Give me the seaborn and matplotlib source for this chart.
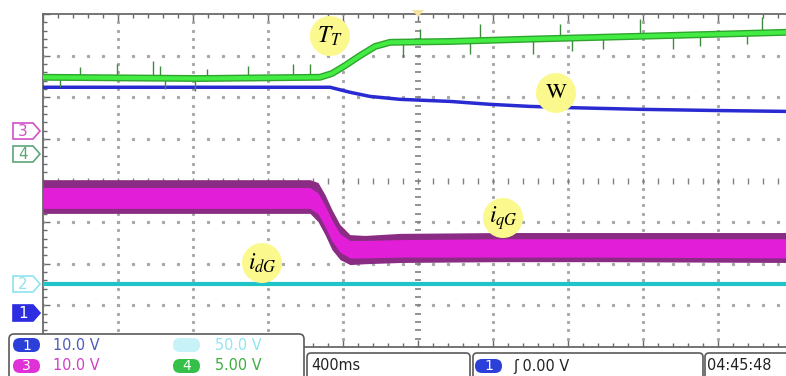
import numpy as np
import seaborn as sns
import matplotlib.pyplot as plt
from matplotlib.patches import Circle, FancyBboxPatch, Polygon

sns.set_style('white')
plt.rcParams['mathtext.fontset'] = 'stix'

# time axis in ms (400 ms/div), levels in screen divisions (0 = centre, +-4 = edges)
green_t = [0, 837, 1477, 1541, 1611, 1691, 1771, 1851, 2171, 2544, 2971, 3397, 3963, 4000]
green_lvl = [2.48, 2.45, 2.48, 2.57, 2.76, 3.00, 3.22, 3.32, 3.34, 3.39, 3.44, 3.49, 3.56, 3.57]
green_spike_t = [91, 197, 395, 587, 624, 651, 811, 875, 1093, 1333, 1424,
                 1920, 2011, 2277, 2331, 2613, 2757, 2821, 2987, 3184, 3360, 3504, 3755, 3835]
green_spike_tip = [2.24, 2.72, 2.79, 2.86, 2.76, 2.19, 2.14, 2.67, 2.74, 2.79, 2.81,
                   2.96, 3.63, 3.03, 3.75, 3.03, 3.75, 3.10, 3.15, 3.87, 3.15, 3.22, 3.27, 3.92]

blue_t = [0, 1531, 1557, 1637, 1744, 1904, 2171, 2384, 2597, 2811, 3184, 3611, 3963, 4000]
blue_lvl = [2.24, 2.24, 2.21, 2.12, 2.02, 1.95, 1.90, 1.83, 1.78, 1.75, 1.71, 1.68, 1.66, 1.66]

mag_t = [0, 1424, 1467, 1504, 1541, 1584, 1637, 1717, 1904, 2437, 2971, 4000]
mag_outer_top = [0.02, 0.02, -0.05, -0.34, -0.70, -1.06, -1.30, -1.32, -1.27, -1.25, -1.25, -1.25]
mag_outer_bot = [-0.79, -0.79, -0.99, -1.30, -1.66, -1.90, -2.02, -2.00, -1.97, -1.95, -1.95, -1.97]
mag_inner_top = [-0.17, -0.17, -0.30, -0.60, -0.95, -1.28, -1.44, -1.44, -1.42, -1.40, -1.40, -1.40]
mag_inner_bot = [-0.67, -0.67, -0.80, -1.10, -1.45, -1.72, -1.86, -1.86, -1.84, -1.84, -1.84, -1.86]

cyan_t = [0, 4000]
cyan_lvl = [-2.48, -2.48]

fig = plt.figure(figsize=(7.86, 3.76), dpi=100)
ax = fig.add_axes([43 / 786, 29 / 376, 750 / 786, 333 / 376])
ax.set_xlim(0, 4000)
ax.set_ylim(-4, 4)

# graticule
grid_c = '#a8a8a8'
for gx in np.arange(400, 4000, 400):
    if gx == 2000:
        continue
    ys = np.arange(-4, 4.01, 0.2)
    ax.plot([gx] * len(ys), ys, ls='none', marker='s', ms=1.2, color=grid_c, zorder=1)
for gy in range(-3, 4):
    if gy == 0:
        continue
    xs = np.arange(0, 4001, 80)
    ax.plot(xs, [gy] * len(xs), ls='none', marker='s', ms=1.3, color=grid_c, zorder=1)
ys = np.arange(-4, 4.01, 0.2)
ax.plot([2000] * len(ys), ys, ls='none', marker='_', ms=5, mew=1.2, color='#808080', zorder=1)
xs = np.arange(0, 4001, 80)
ax.plot(xs, [0] * len(xs), ls='none', marker='|', ms=5, mew=1.0, color='#808080', zorder=1)

for side in ['top', 'left', 'bottom']:
    ax.spines[side].set_color('#6a6a6a')
    ax.spines[side].set_linewidth(1.3)
ax.spines['right'].set_visible(False)
ax.set_xticks(np.arange(0, 4001, 400))
ax.set_xticks(np.arange(0, 4001, 80), minor=True)
ax.set_yticks(np.arange(-4, 4.01, 1))
ax.set_yticks(np.arange(-4, 4.01, 0.2), minor=True)
ax.tick_params(which='both', direction='in', top=True, bottom=True, left=True,
               labelleft=False, labelbottom=False, color='#6a6a6a', width=1.0)
ax.tick_params(which='major', length=5)
ax.tick_params(which='minor', length=3)
ax.set_xlabel('')
ax.set_ylabel('')

# traces
ax.fill_between(mag_t, mag_outer_bot, mag_outer_top, color='#8a2c84', lw=0, zorder=3)
ax.fill_between(mag_t, mag_inner_bot, mag_inner_top, color='#e21ed8', lw=0, zorder=3)
sns.lineplot(x=cyan_t, y=cyan_lvl, ax=ax, color='#1fc4c8', lw=3, zorder=3)
sns.lineplot(x=blue_t, y=blue_lvl, ax=ax, color='#2a2ad2', lw=2.5, zorder=4)
g_at = np.interp(green_spike_t, green_t, green_lvl)
ax.vlines(green_spike_t, g_at, green_spike_tip, color='#3f8a3f', lw=1.0, zorder=4)
sns.lineplot(x=green_t, y=green_lvl, ax=ax, color='#2fa52f', lw=5, zorder=5)
sns.lineplot(x=green_t, y=green_lvl, ax=ax, color='#42ec42', lw=3, zorder=5)

# overlay in screen pixels for annotations and scope widgets
ov = fig.add_axes([0, 0, 1, 1], zorder=2)
ov.set_xlim(0, 786)
ov.set_ylim(376, 0)
ov.axis('off')
ov.patch.set_visible(False)

# trigger position marker
ov.add_patch(Polygon([[412, 10], [424, 10], [418, 17]], closed=True, color='#f6e3a0', lw=0))

labels = [((330, 36), r'$T_T$', 17), ((556, 93), 'W', 16),
          ((503, 218), r'$i_{qG}$', 17), ((262, 263), r'$i_{dG}$', 17)]
for (cx, cy), txt, fs in labels:
    ov.add_patch(Circle((cx, cy), 20, color='#fbf98e', lw=0))
    fam = 'STIXGeneral' if txt == 'W' else None
    ov.text(cx, cy, txt, ha='center', va='center', fontsize=fs, color='black',
            family=fam if fam else None)

# channel ground tags on the left
tags = [(131, '3', 'white', '#d14fc8', '#d14fc8'),
        (154, '4', 'white', '#5aa87a', '#5aa87a'),
        (284, '2', 'white', '#8ee4ee', '#8ee4ee'),
        (313, '1', '#2c2ce0', '#2c2ce0', 'white')]
for cy, num, face, edge, tc in tags:
    ov.add_patch(Polygon([[13, cy - 8], [33, cy - 8], [40, cy], [33, cy + 8], [13, cy + 8]],
                         closed=True, fc=face, ec=edge, lw=1.2))
    ov.text(23, cy + 0.5, num, ha='center', va='center', fontsize=11, color=tc)

# bottom status panels
narrow = ['Liberation Sans Narrow', 'DejaVu Sans']
ov.add_patch(FancyBboxPatch((9, 334), 295, 50, boxstyle='round,pad=0,rounding_size=5',
                            fc='white', ec='#5a5a5a', lw=1.2))
ov.add_patch(FancyBboxPatch((307, 353), 163, 30, boxstyle='round,pad=0,rounding_size=4',
                            fc='white', ec='#5a5a5a', lw=1.2))
ov.add_patch(FancyBboxPatch((473, 353), 230, 30, boxstyle='round,pad=0,rounding_size=4',
                            fc='white', ec='#5a5a5a', lw=1.2))
ov.add_patch(FancyBboxPatch((705, 353), 90, 30, boxstyle='round,pad=0,rounding_size=4',
                            fc='white', ec='#5a5a5a', lw=1.2))

badges = [(13, 345, '#2c3fd8', '1', 'white'), (13, 366, '#e030d8', '3', 'white'),
          (173, 345, '#c6f2f8', '2', '#c6f2f8'), (173, 366, '#35c04a', '4', 'white'),
          (475, 366, '#2c3fd8', '1', 'white')]
for bx, by, bc, num, tc in badges:
    ov.add_patch(FancyBboxPatch((bx, by - 7), 27, 14, boxstyle='round,pad=0,rounding_size=7',
                                fc=bc, ec='none'))
    ov.text(bx + 13.5, by + 0.5, num, ha='center', va='center', fontsize=10, color=tc)

status = [(53, 345, '10.0 V', '#4c5bb8'), (53, 366, '10.0 V', '#d13fc6'),
          (215, 345, '50.0 V', '#8fe6f2'), (215, 366, '5.00 V', '#3fae3f'),
          (311, 366, '400ms', '#222222'), (513, 366, 'ʃ 0.00 V', '#222222'),
          (707, 366, '04:45:48', '#222222')]
for sx, sy, txt, c in status:
    ov.text(sx, sy, txt, ha='left', va='center', fontsize=11.5, color=c,
            family=narrow, fontstretch='condensed')

fig.savefig('out.png', dpi=100)
